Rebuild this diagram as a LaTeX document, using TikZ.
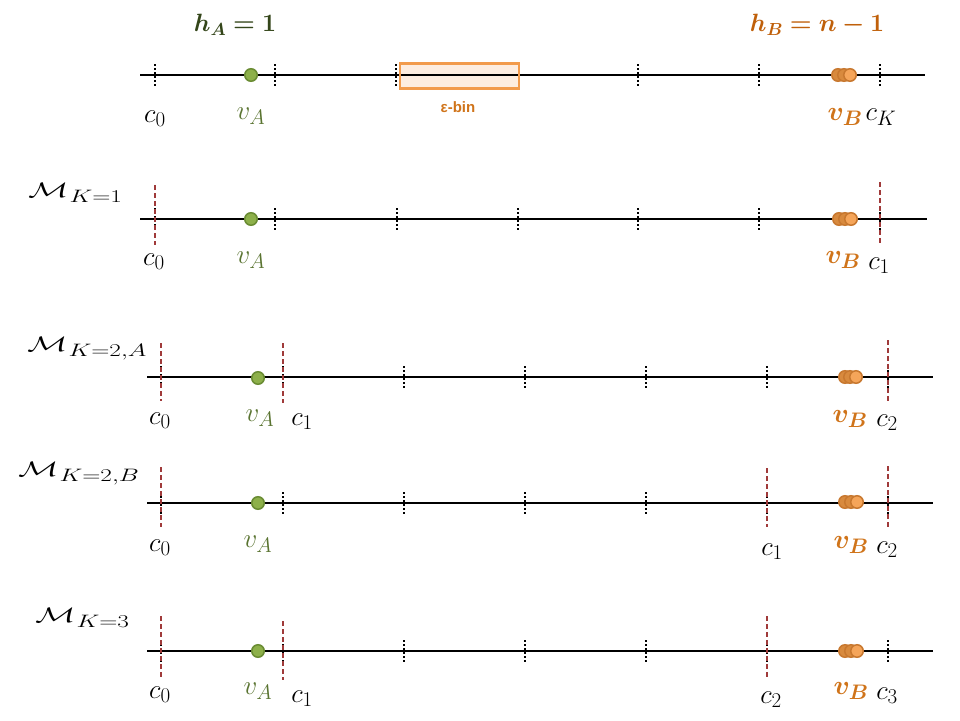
\RequirePackage{fix-cm}
\documentclass[tikz,border=0pt]{standalone}
\usepackage{amsmath,bm}
\usepackage{fontspec}
\usepackage{graphicx}
\DeclareMathSizes{27}{27}{21}{16}
\newfontfamily\binfont{Liberation Sans}
\definecolor{gtext}{HTML}{5A7431}
\definecolor{gdark}{HTML}{34461A}
\definecolor{gfill}{HTML}{8DB04A}
\definecolor{gline}{HTML}{6A8C33}
\definecolor{otext}{HTML}{D0741A}
\definecolor{odark}{HTML}{C0600A}
\definecolor{ofill}{HTML}{F5A55A}
\definecolor{oline}{HTML}{C8782F}
\definecolor{oback}{HTML}{D88A3E}
\definecolor{boxline}{HTML}{F29B4C}
\definecolor{boxfill}{HTML}{FDEDE0}
\definecolor{cutred}{HTML}{A03A3A}
\newcommand\Mlab[1]{\scalebox{1.6}[1]{\fontsize{21}{25}\selectfont$\mathcal{M}$}\hspace{1pt}\scalebox{1.4}[1]{\raisebox{-5pt}{\fontsize{18}{21}\selectfont$#1$}}}
\tikzset{
  axis/.style={line width=1.8pt, black},
  tickmark/.style={line width=1.3pt, black, dash pattern=on 2pt off 2pt},
  cut/.style={draw=cutred, line width=1.5pt, dash pattern=on 5pt off 3pt},
  gdot/.style={circle, fill=gfill, draw=gline, line width=1.5pt, minimum size=12.5pt, inner sep=0pt},
  odot/.style={circle, fill=ofill, draw=oline, line width=1.5pt, minimum size=12.5pt, inner sep=0pt},
  odotb/.style={circle, fill=oback, draw=oline, line width=1.5pt, minimum size=12.5pt, inner sep=0pt},
  lab/.style={font=\fontsize{27}{30}\selectfont, inner sep=0pt},
  glab/.style={lab, text=gtext},
  olab/.style={lab, text=otext},
  mlab/.style={anchor=base west, inner sep=0pt},
}
\begin{document}
\begin{tikzpicture}[x=1pt,y=-1pt]
\useasboundingbox (0,0) rectangle (960,720);
\fill[white] (0,0) rectangle (960,720);

% ---------------- Row 1 ----------------
\node[font=\fontsize{25}{30}\selectfont, text=gdark, inner sep=0pt] (hA) at (235,25) {$\bm{h_A = 1}$};
\node[font=\fontsize{25}{30}\selectfont, text=odark, inner sep=0pt] (hB) at (817,25) {$\bm{h_B = n - 1}$};
\foreach \x in {155,275,518,638,759,880} \draw[tickmark] (\x,64) -- (\x,86);
\node[draw=none, fill=boxfill, minimum width=119pt, minimum height=25pt, inner sep=0pt] (binfill) at (459.5,76) {};
\coordinate (r1s) at (140,75); \coordinate (r1e) at (925,75);
\draw[axis] (r1s) -- (r1e);
\node[draw=boxline, line width=2.2pt, minimum width=119pt, minimum height=25pt, inner sep=0pt] (bin) at (459.5,76) {};
\draw[tickmark] (396,64) -- (396,86);
\node[font=\binfont\bfseries\fontsize{15}{17}\selectfont, text=otext, inner sep=0pt] (binlab) at (458,107) {ε-bin};
\node[gdot] (vA1) at (251,75) {};
\node[odotb] (vB1a) at (838,75) {};
\node[odotb] (vB1b) at (844,75) {};
\node[odot] (vB1c) at (850,75) {};
\node[lab] (c01) at (155,119) {$c_0$};
\node[glab] (lA1) at (251,116) {$v_A$};
\node[olab] (lB1) at (845,117) {$\bm{v_B}$};
\node[lab] (cK1) at (881,117) {$c_K$};

% ---------------- Row 2 ----------------
\node[mlab] (M2) at (28,197) {\Mlab{K{=}1}};
\foreach \x in {155,275,397,518,638,759,880} \draw[tickmark] (\x,208) -- (\x,230);
\coordinate (r2s) at (140,219); \coordinate (r2e) at (927,219);
\draw[axis] (r2s) -- (r2e);
\draw[cut] (155,185) -- (155,245);
\draw[cut] (880,182) -- (880,244);
\node[gdot] (vA2) at (251,219) {};
\node[odotb] (vB2a) at (839,219) {};
\node[odotb] (vB2b) at (845,219) {};
\node[odot] (vB2c) at (851,219) {};
\node[lab] (c02) at (154,262) {$c_0$};
\node[glab] (lA2) at (251,260) {$v_A$};
\node[olab] (lB2) at (843,260) {$\bm{v_B}$};
\node[lab] (c12) at (879,266) {$c_1$};

% ---------------- Row 3 ----------------
\node[mlab] (M3) at (27,351) {\Mlab{K{=}2,\!A}};
\foreach \x in {161,283,404,525,646,767,888} \draw[tickmark] (\x,366) -- (\x,388);
\coordinate (r3s) at (147,377); \coordinate (r3e) at (933,377);
\draw[axis] (r3s) -- (r3e);
\draw[cut] (161,343) -- (161,401);
\draw[cut] (283,343) -- (283,403);
\draw[cut] (888,340) -- (888,401);
\node[gdot] (vA3) at (258,378) {};
\node[odotb] (vB3a) at (845,377) {};
\node[odotb] (vB3b) at (850,377) {};
\node[odot] (vB3c) at (856,377) {};
\node[lab] (c03) at (160,421) {$c_0$};
\node[glab] (lA3) at (260,418) {$v_A$};
\node[lab] (c13) at (302,422) {$c_1$};
\node[olab] (lB3) at (850,419) {$\bm{v_B}$};
\node[lab] (c23) at (887,423) {$c_2$};

% ---------------- Row 4 ----------------
\node[mlab] (M4) at (18,476) {\Mlab{K{=}2,\!B}};
\foreach \x in {161,283,404,525,646,767,888} \draw[tickmark] (\x,492) -- (\x,514);
\coordinate (r4s) at (147,503); \coordinate (r4e) at (933,503);
\draw[axis] (r4s) -- (r4e);
\draw[cut] (161,467) -- (161,527);
\draw[cut] (767,468) -- (767,527);
\draw[cut] (888,466) -- (888,527);
\node[gdot] (vA4) at (258,503) {};
\node[odotb] (vB4a) at (845,502) {};
\node[odotb] (vB4b) at (851,502) {};
\node[odot] (vB4c) at (857,502) {};
\node[lab] (c04) at (160,548) {$c_0$};
\node[glab] (lA4) at (258,544) {$v_A$};
\node[lab] (c14) at (772,552) {$c_1$};
\node[olab] (lB4) at (851,545) {$\bm{v_B}$};
\node[lab] (c24) at (887,550) {$c_2$};

% ---------------- Row 5 ----------------
\node[mlab] (M5) at (35,622) {\Mlab{K{=}3}};
\foreach \x in {161,283,404,525,646,767,888} \draw[tickmark] (\x,640) -- (\x,662);
\coordinate (r5s) at (147,651); \coordinate (r5e) at (933,651);
\draw[axis] (r5s) -- (r5e);
\draw[cut] (161,616) -- (161,677);
\draw[cut] (283,621) -- (283,680);
\draw[cut] (767,616) -- (767,677);
\node[gdot] (vA5) at (258,651) {};
\node[odotb] (vB5a) at (845,651) {};
\node[odotb] (vB5b) at (851,651) {};
\node[odot] (vB5c) at (857,651) {};
\node[lab] (c05) at (160,695) {$c_0$};
\node[glab] (lA5) at (258,691) {$v_A$};
\node[lab] (c15) at (302,699) {$c_1$};
\node[lab] (c25) at (771,700) {$c_2$};
\node[olab] (lB5) at (851,691) {$\bm{v_B}$};
\node[lab] (c35) at (887,696) {$c_3$};
\end{tikzpicture}
\end{document}
